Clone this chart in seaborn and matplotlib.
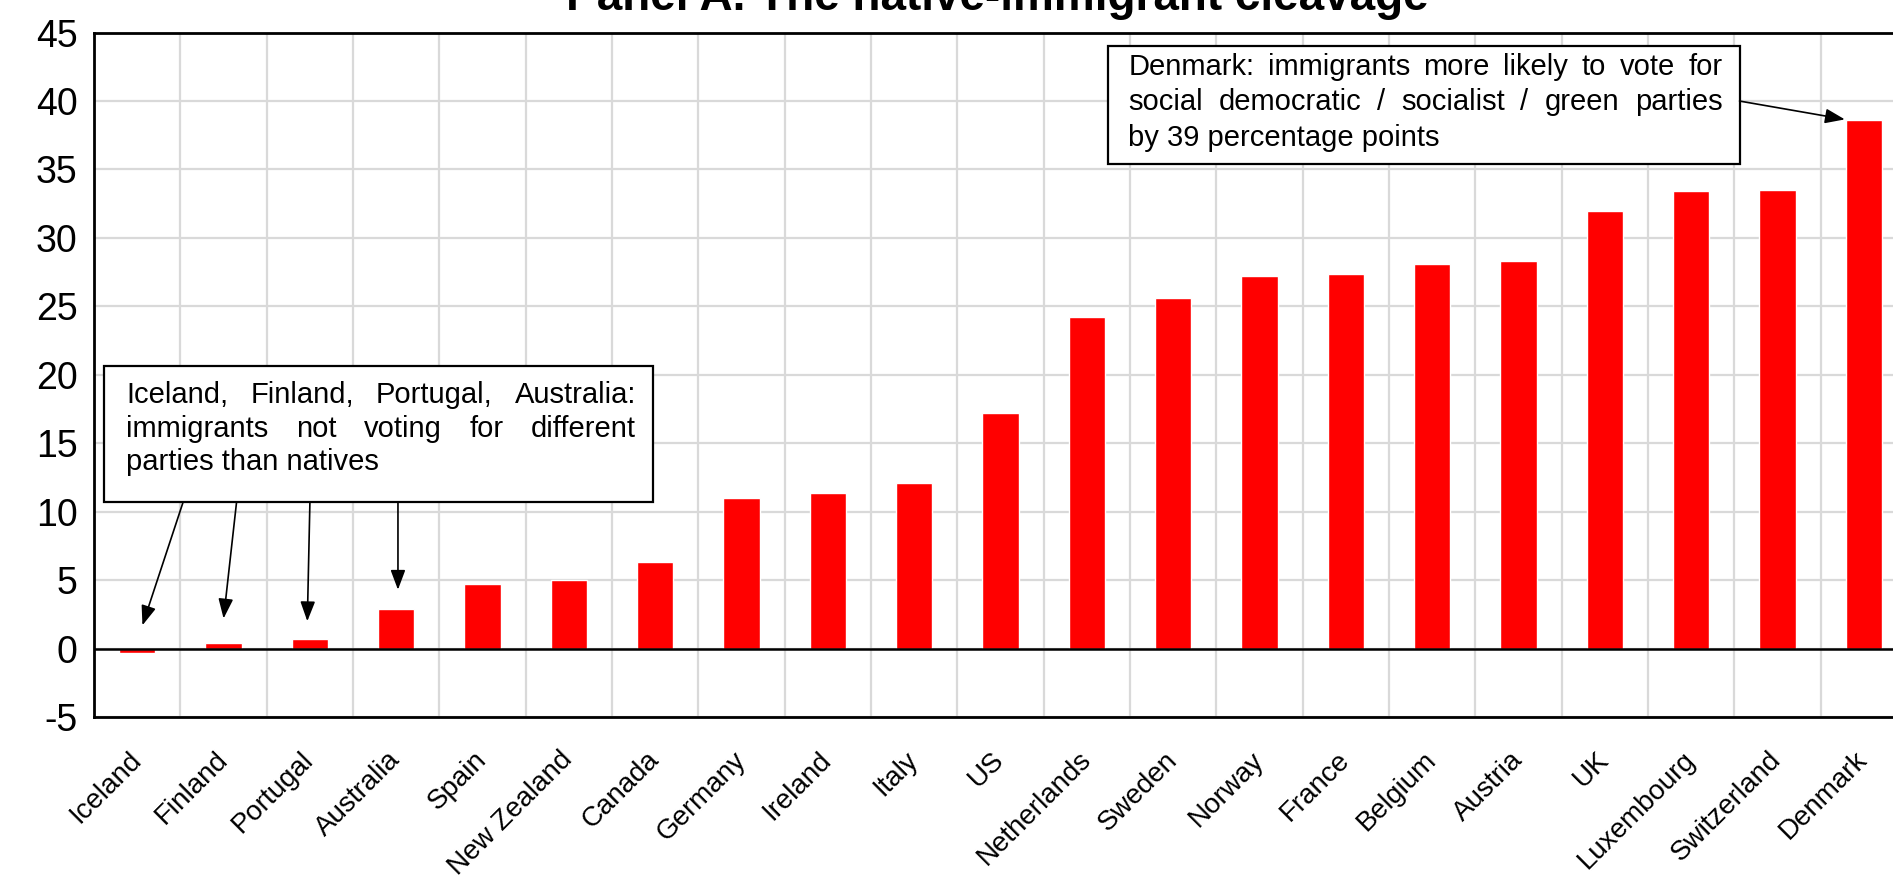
import matplotlib
matplotlib.use("Agg")
import seaborn as sns
from matplotlib import pyplot as plt
from matplotlib.patches import Rectangle

countries = ["Iceland", "Finland", "Portugal", "Australia", "Spain", "New Zealand",
             "Canada", "Germany", "Ireland", "Italy", "US", "Netherlands", "Sweden",
             "Norway", "France", "Belgium", "Austria", "UK", "Luxembourg",
             "Switzerland", "Denmark"]
gap = [-0.3, 0.4, 0.7, 2.9, 4.7, 5.0, 6.3, 11.0, 11.4, 12.1, 17.2, 24.2, 25.6,
       27.2, 27.4, 28.1, 28.3, 32.0, 33.4, 33.5, 38.6]
title = "Panel A. The native-immigrant cleavage"
note_left = ["Iceland, Finland, Portugal, Australia:",
             "immigrants not voting for different",
             "parties than natives"]
note_right = ["Denmark: immigrants more likely to vote for",
              "social democratic / socialist / green parties",
              "by 39 percentage points"]

sns.set_style("white")
plt.rcParams["font.family"] = ["Liberation Sans", "DejaVu Sans"]
plt.rcParams["axes.unicode_minus"] = False
plt.rcParams["text.color"] = "black"
plt.rcParams["xtick.color"] = "black"
plt.rcParams["ytick.color"] = "black"

fig = plt.figure(figsize=(18.93, 8.86), dpi=100)
ax = fig.add_axes([0.0497, 0.1907, 0.9577, 0.7725])

sns.barplot(x=countries, y=gap, color="#ff0000", saturation=1, width=0.42, ax=ax)

ax.set_xlim(-0.5, 20.5)
ax.set_ylim(-5, 45)
ax.set_yticks(range(-5, 46, 5))
ax.set_xticks(range(len(countries)), minor=False)
ax.set_xticks([i + 0.5 for i in range(len(countries))], minor=True)
ax.grid(True, which="major", axis="y", color="#d9d9d9", lw=1.6)
ax.grid(True, which="minor", axis="x", color="#d9d9d9", lw=1.6)
ax.set_axisbelow(True)
ax.axhline(0, color="black", lw=1.8, zorder=3)
for s in ["left", "top", "bottom"]:
    ax.spines[s].set_color("black")
    ax.spines[s].set_linewidth(2)
ax.spines["right"].set_visible(False)
ax.tick_params(axis="both", which="both", length=0)
ax.tick_params(axis="y", labelsize=27, pad=12)
ax.tick_params(axis="x", labelsize=20, pad=28)
for lab in ax.get_xticklabels():
    lab.set_rotation(45)
    lab.set_ha("right")
    lab.set_va("center")
    lab.set_rotation_mode("anchor")
ax.set_xlabel("")
ax.set_ylabel("")

fig.text(0.527, 0.9887, title, ha="center", va="baseline", fontsize=33, fontweight="bold")

renderer = fig.canvas.get_renderer()


def put_line(words, x0, x1, y, fs, justify):
    # Excel-like justified text: spread the words over x0..x1
    if not justify:
        ax.text(x0, y, " ".join(words), fontsize=fs, va="center", ha="left", zorder=6)
        return
    items = [ax.text(x0, y, w, fontsize=fs, va="center", ha="left", zorder=6) for w in words]
    widths = [t.get_window_extent(renderer).width for t in items]
    px0 = ax.transData.transform((x0, y))[0]
    px1 = ax.transData.transform((x1, y))[0]
    space = (px1 - px0 - sum(widths)) / (len(words) - 1)
    pos = px0
    inv = ax.transData.inverted()
    for t, w in zip(items, widths):
        t.set_x(inv.transform((pos, 0))[0])
        pos += w + space


# left annotation box
ax.add_patch(Rectangle((-0.38, 10.68), 6.35, 9.97, fill=True, facecolor="white",
                       edgecolor="black", lw=1.6, zorder=5))
for i, line in enumerate(note_left):
    put_line(line.split(), -0.13, 5.78, 18.5 - i * 2.45, 21, i < 2)
tails = [(0.53, 10.68), (1.15, 10.68), (2.0, 10.68), (3.02, 10.68)]
heads = [(0.06, 1.7), (1.0, 2.2), (1.97, 2.0), (3.02, 4.3)]
for t, h in zip(tails, heads):
    ax.annotate("", xy=h, xytext=t, zorder=6,
                arrowprops=dict(arrowstyle="-|>,head_length=1.2,head_width=0.45",
                                color="black", lw=1.2, shrinkA=0, shrinkB=0))

# right annotation box
ax.add_patch(Rectangle((11.24, 35.4), 7.32, 8.6, fill=True, facecolor="white",
                       edgecolor="black", lw=1.6, zorder=5))
for i, line in enumerate(note_right):
    put_line(line.split(), 11.48, 18.36, 42.5 - i * 2.6, 21, i < 2)
ax.annotate("", xy=(19.78, 38.66), xytext=(18.56, 40.0), zorder=6,
            arrowprops=dict(arrowstyle="-|>,head_length=1.2,head_width=0.45",
                            color="black", lw=1.2, shrinkA=0, shrinkB=0))

fig.savefig("out.png", dpi=100)
